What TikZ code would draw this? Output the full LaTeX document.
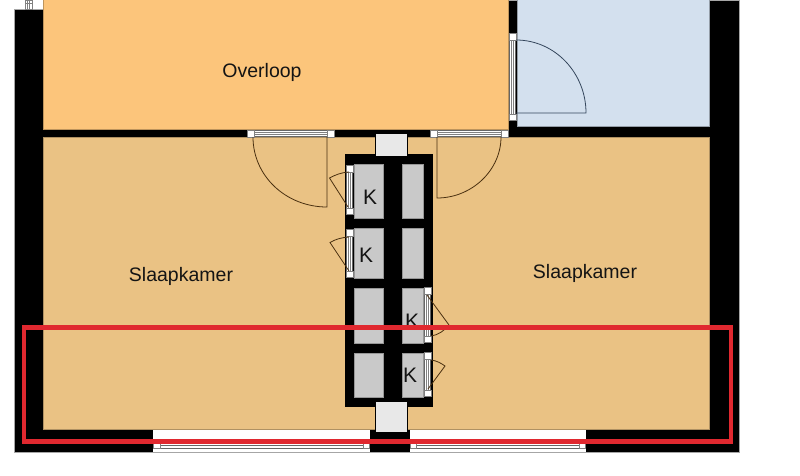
\documentclass[tikz,border=0pt]{standalone}
\usepackage{fontspec}
\setmainfont{Liberation Sans}
\definecolor{OverloopOrange}{HTML}{FCC57B}
\definecolor{SlaapTan}{HTML}{EAC284}
\definecolor{BergingBlue}{HTML}{D3E0EE}
\definecolor{KastGrey}{HTML}{C9C9C9}
\definecolor{VentGrey}{HTML}{E8E8E8}
\definecolor{MarkRed}{HTML}{E0282F}
\definecolor{LeafBrown}{HTML}{4A3010}
\definecolor{LeafBlue}{HTML}{34465C}
\tikzset{
    wall/.style={fill=black},
    kast/.style={fill=KastGrey,draw=KastGrey!75!black,line width=0.7pt},
    vent/.style={fill=VentGrey},
    raam/.style={fill=white,draw=black!60,line width=0.7pt},
    streep/.style={draw=black!50,line width=0.6pt},
    hoek/.style={fill=white,draw=black!50,line width=0.5pt},
    leaf/.style={draw=LeafBrown,line width=0.8pt},
    roomtext/.style={font=\fontsize{19.5}{19.5}\selectfont,text=black!92},
    ktext/.style={font=\fontsize{21}{21}\selectfont,text=black!92}
}
% strip of a door or window: x1, x2, y1, y2
\newcommand{\raamh}[4]{
    \fill[white] (#1,#3) rectangle (#2,#4);
    \draw[raam] (#1,#3+0.5) rectangle (#2,#4-0.5);
    \draw[streep] (#1,#3+2.5) -- (#2,#3+2.5) (#1,#3+4.5) -- (#2,#3+4.5);
    \draw[hoek] (#1-7,#3) rectangle (#1,#4);
    \draw[hoek] (#2,#3) rectangle (#2+7,#4);
}
\newcommand{\raamv}[4]{
    \fill[white] (#1,#3) rectangle (#2,#4);
    \draw[raam] (#1+0.5,#3) rectangle (#2-0.5,#4);
    \draw[streep] (#1+2.5,#3) -- (#1+2.5,#4) (#1+4.5,#3) -- (#1+4.5,#4);
    \draw[hoek] (#1,#3-6.5) rectangle (#2,#3);
    \draw[hoek] (#1,#4) rectangle (#2,#4+6.5);
}

\begin{document}
\begin{tikzpicture}[x=1pt,y=-1pt]
    \useasboundingbox (0,0) rectangle (800,475);
    \fill[white] (0,0) rectangle (800,475);

    % walls
    \fill[wall,draw=black!35,line width=0.5pt] (14,9) -- (43,9) -- (43,0) -- (739,0) -- (739,452) -- (14,452) -- cycle;

    % rooms
    \fill[OverloopOrange] (43,0) rectangle (509,130);
    \draw[OverloopOrange!75!black,line width=0.7pt] (43.4,0) -- (43.4,129.6) -- (508.6,129.6) -- (508.6,0);
    \fill[BergingBlue] (517,0) rectangle (710,127);
    \draw[BergingBlue!70!black,line width=0.7pt] (517.4,0) -- (517.4,126.6) -- (709.6,126.6) -- (709.6,0);
    \draw[fill=SlaapTan,draw=SlaapTan!75!black,line width=0.7pt] (43.4,137.4) rectangle (709.6,429.6);

    % closets
    \fill[wall] (345,154) rectangle (433,407);
    \foreach \ya/\yb in {164/218,228/278,288/343,353/397} {
        \draw[kast] (354,\ya) rectangle (383,\yb);
        \draw[kast] (402,\ya) rectangle (423,\yb);
    }
    \draw[vent] (375,133) rectangle (407,156);
    \draw[vent] (375,401) rectangle (407,432);

    % bottom windows
    \fill[white] (153,430) rectangle (370,452);
    \fill[white] (410,430) rectangle (586,452);
    \draw[raam] (156,445) rectangle (366,448);
    \draw[hoek] (153.5,443) rectangle (160,448);
    \draw[hoek] (363,443) rectangle (369.5,448);
    \draw[raam] (413,445) rectangle (583,448);
    \draw[hoek] (410.5,443) rectangle (416,448);
    \draw[hoek] (579,443) rectangle (585.5,448);

    % small window top left
    \draw[hoek] (25,0) rectangle (32,9);
    \draw[black!50,line width=0.5pt] (25,3) -- (32,3) (27.5,0) -- (27.5,9) (29.5,0) -- (29.5,9);

    % doors
    \raamh{254}{327}{130}{137}
    \raamh{437}{501}{130}{137}
    \raamv{509}{516}{40}{114}
    \raamv{346}{353}{172}{208}
    \raamv{346}{353}{236}{271}
    \raamv{424}{431}{294}{336}
    \raamv{424}{431}{359}{390}

    \draw[leaf] (253,137) .. controls (253,176) and (286,207) .. (327,207) -- (327,137);
    \draw[leaf] (437,137) -- (437,198) .. controls (472,198) and (501,170) .. (501,137);
    \draw[draw=LeafBlue,line width=0.8pt] (516,40) .. controls (555,40) and (586,73) .. (586,113) -- (516,113);
    \draw[leaf] (349,172) .. controls (341,172.5) and (335,175) .. (329.5,178) -- (348,207);
    \draw[leaf] (349,237) .. controls (341,237.5) and (335,239.5) .. (330,242.5) -- (349,271);
    \draw[leaf] (427,295) -- (449,325) .. controls (444,331) and (438,335) .. (431,336);
    \draw[leaf] (431,360) .. controls (436,360.5) and (441,363) .. (445,366) -- (428,389);

    % labels
    \node[roomtext] (overloop) at (262,72) {Overloop};
    \node[roomtext] (slaapkamerL) at (181,276) {Slaapkamer};
    \node[roomtext] (slaapkamerR) at (585,273) {Slaapkamer};
    \node[ktext] (kastA) at (370,197) {K};
    \node[ktext] (kastB) at (366,255) {K};
    \node[ktext] (kastC) at (412,321) {K};
    \node[ktext] (kastD) at (410,375) {K};

    % red marking
    \draw[MarkRed,line width=4.5pt] (24,327.5) rectangle (731,441.5);
\end{tikzpicture}
\end{document}
